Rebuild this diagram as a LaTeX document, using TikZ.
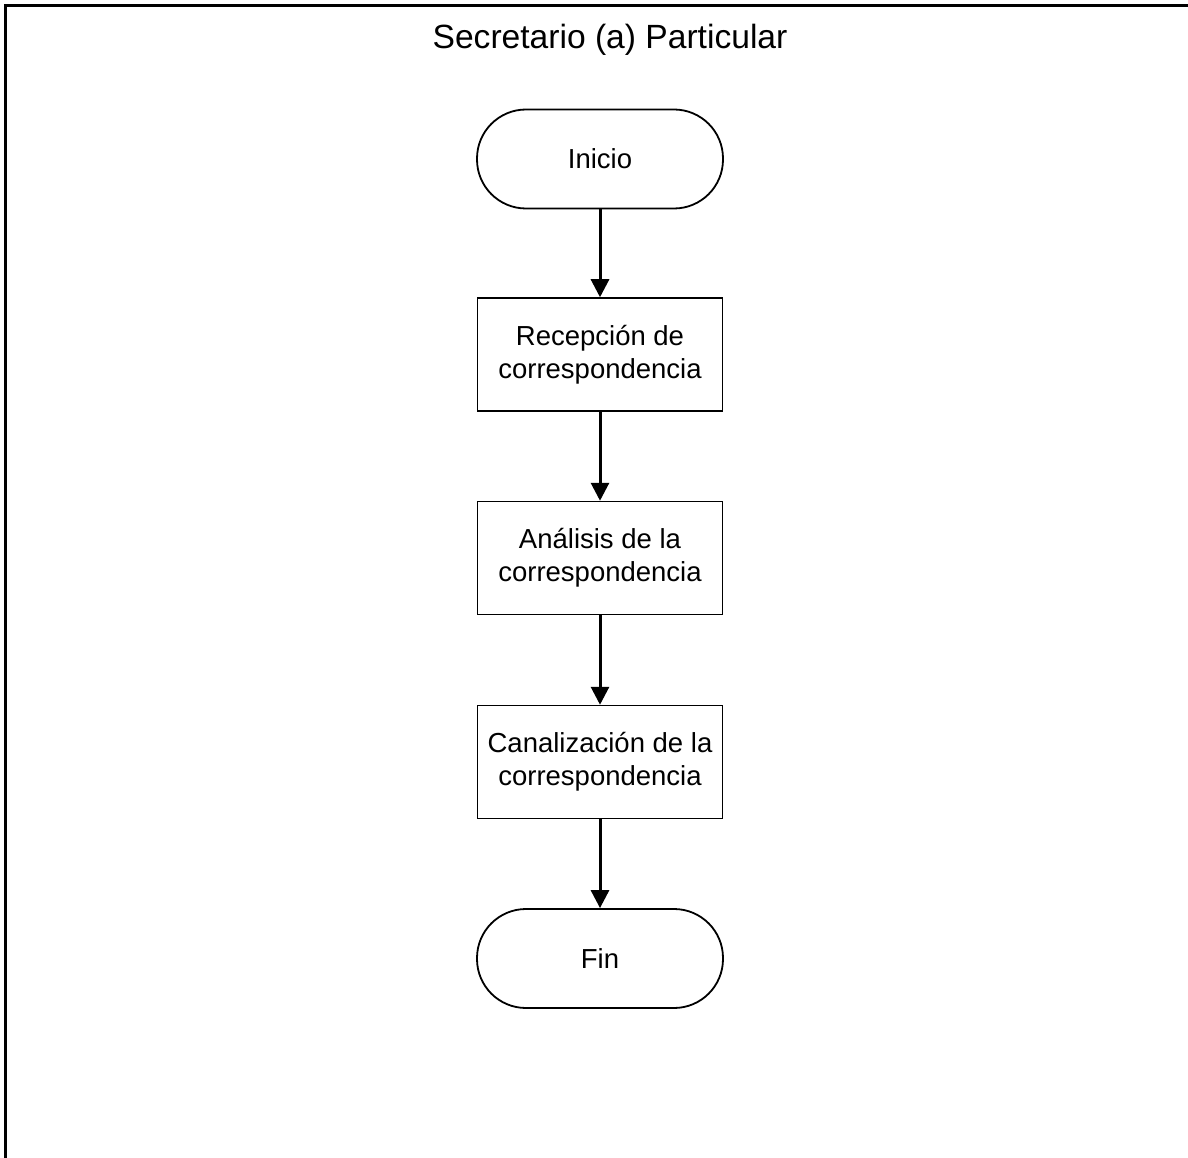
\documentclass[tikz,border=0pt]{standalone}
\usepackage{fontspec}
\setmainfont{Liberation Sans}
\usetikzlibrary{arrows.meta}
\begin{document}
\begin{tikzpicture}[x=1pt,y=-1pt,
  boxtxt/.style={font=\fontsize{27.5}{33}\selectfont, align=center},
  procbox/.style={boxtxt, draw, line width=1.5pt, minimum width=245pt, minimum height=113pt, inner sep=0pt},
  termbox/.style={boxtxt, draw, line width=1.8pt, minimum width=246pt, minimum height=99pt, rounded corners=49pt, inner sep=0pt},
  flow/.style={line width=3pt, -{Triangle[length=18pt,width=18pt]}},
  frame/.style={line width=3pt}]
\useasboundingbox (0,0) rectangle (1188,1158);
\coordinate (ftl) at (5,6);
\coordinate (ftr) at (1190,6);
\coordinate (fbl) at (5,1160);
\draw[frame] (ftr) -- (ftl) -- (fbl);
\node[font=\fontsize{33.6}{40}\selectfont] (title) at (610,40) {Secretario (a) Particular};
\node[termbox] (ini) at (600,159) {Inicio};
\node[procbox] (rec) at (600,354.5) {Recepción de\\correspondencia};
\node[procbox] (ana) at (600,558) {Análisis de la\\correspondencia};
\node[procbox] (can) at (600,762) {Canalización de la\\correspondencia};
\node[termbox] (fin) at (600,958.5) {Fin};
\draw[flow] (ini.south) -- (rec.north);
\draw[flow] (rec.south) -- (ana.north);
\draw[flow] (ana.south) -- (can.north);
\draw[flow] (can.south) -- (fin.north);
\end{tikzpicture}
\end{document}
